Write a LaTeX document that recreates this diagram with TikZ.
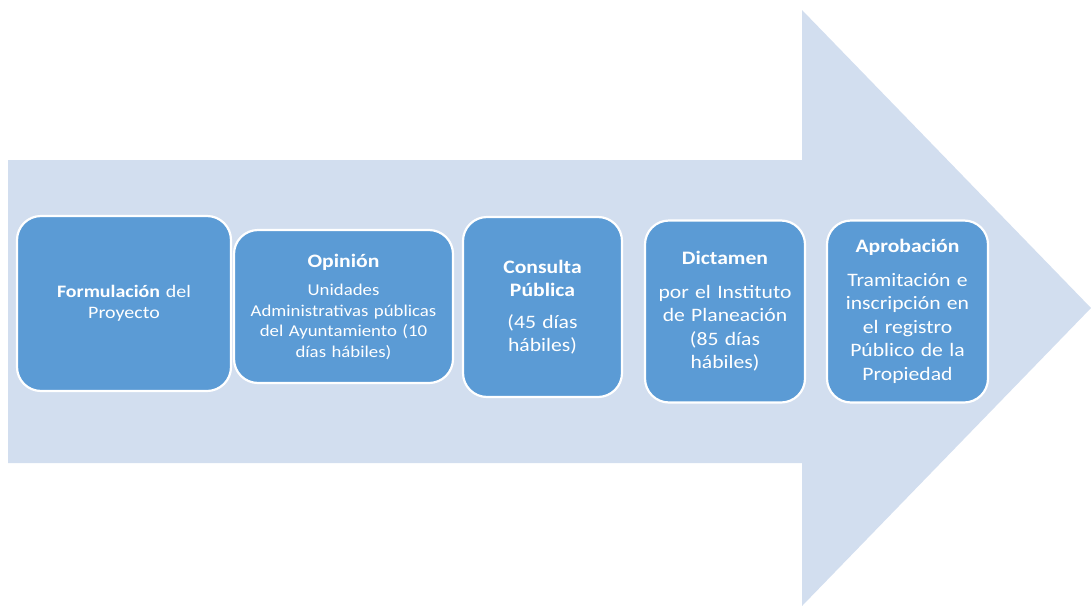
\documentclass[tikz,border=0pt]{standalone}
\usepackage{fontspec}
\setmainfont{Carlito}[FakeStretch=1.14]
\usetikzlibrary{positioning}
\definecolor{arrow_blue}{HTML}{D2DEEF}
\definecolor{step_blue}{HTML}{5B9BD5}
\tikzset{
  small_font/.style = {font=\fontsize{16.5}{20.5}\selectfont},
  mid_font/.style = {font=\fontsize{17.5}{21}\selectfont},
  big_font/.style = {font=\fontsize{19}{23.5}\selectfont},
  step_background/.style = {fill=step_blue}
}
\tikzset{
  stepbox/.style = {draw=white, line width=2.2pt, rounded corners=24pt, step_background,
    text=white, align=center, inner sep=0pt},
  wide_box/.style = {stepbox, minimum width=214, text width=204},
  narrow_box/.style = {stepbox, minimum width=160, text width=154},
  big_arrow/.style = {fill=arrow_blue}
}
\newcommand{\steptitle}[1]{\textbf{#1}}
\begin{document}
\begin{tikzpicture}[x=1pt, y=-1pt, node distance=0]
    \useasboundingbox (0,0) rectangle (1091,605);

    % Background arrow
    \fill[big_arrow] (8,160) -- (802,160) -- (802,10) -- (1091,308)
        -- (802,606) -- (802,463) -- (8,463) -- cycle;

    % Steps
    \node[wide_box, mid_font, minimum height=175] at (124,303.5) (formulacion) {
        \steptitle{Formulación} del\\
        Proyecto
        };
    \node[wide_box, small_font, minimum width=219, minimum height=153] at (343.5,306.5) (opinion) {
        {\fontsize{19}{21}\selectfont\steptitle{Opinión}}\\[8pt]
        Unidades\\
        Administrativas públicas\\
        del Ayuntamiento (10\\
        días hábiles)
        };
    \node[narrow_box, big_font, minimum width=159, minimum height=180] at (542.5,307) (consulta) {
        \steptitle{Consulta}\\
        \steptitle{Pública}\\[8pt]
        (45 días\\
        hábiles)
        };
    \node[narrow_box, big_font, minimum height=182] at (725,311.5) (dictamen) {
        \steptitle{Dictamen}\\[10pt]
        por el Instituto\\
        de Planeación\\
        (85 días\\
        hábiles)
        };
    \node[narrow_box, big_font, minimum width=161, minimum height=182] at (907.5,311.5) (aprobacion) {
        \steptitle{Aprobación}\\[10pt]
        Tramitación e\\
        inscripción en\\
        el registro\\
        Público de la\\
        Propiedad
        };
\end{tikzpicture}
\end{document}
